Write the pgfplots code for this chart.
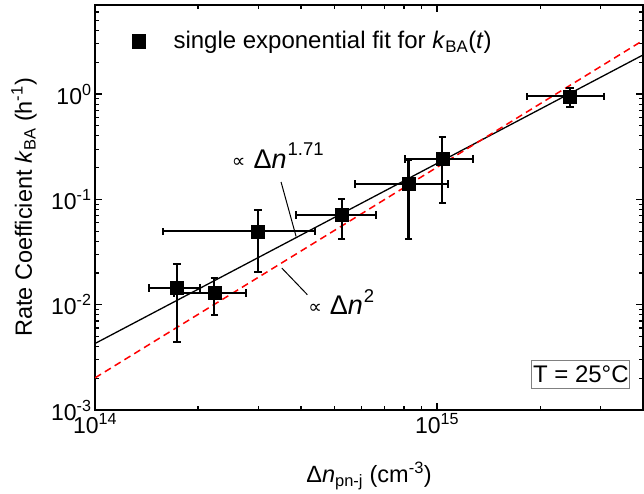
\documentclass[border=0pt]{standalone}
\usepackage{pgfplots}
\pgfplotsset{compat=1.18}
\usepackage{fontspec}
\setmainfont{Liberation Sans}
\newfontfamily\dejavu{DejaVu Sans}
\definecolor{boxgray}{RGB}{128,128,128}
\begin{document}
\begin{tikzpicture}
\begin{axis}[
  scale only axis,
  width=548pt, height=405pt,
  xmode=log, ymode=log,
  xmin=1e14, xmax=4e15,
  ymin=1e-3, ymax=7,
  axis line style={line width=2pt},
  xtick={1e14,1e15},
  xticklabels={10\textsuperscript{14},10\textsuperscript{15}},
  ytick={1e-3,1e-2,1e-1,1},
  yticklabels={10\textsuperscript{-3},10\textsuperscript{-2},10\textsuperscript{-1},10\textsuperscript{0}},
  minor xtick={2e14,3e14,4e14,5e14,6e14,7e14,8e14,9e14,2e15,3e15},
  minor ytick={2e-3,3e-3,4e-3,5e-3,6e-3,7e-3,8e-3,9e-3,2e-2,3e-2,4e-2,5e-2,6e-2,7e-2,8e-2,9e-2,2e-1,3e-1,4e-1,5e-1,6e-1,7e-1,8e-1,9e-1,2,3,4,5,6},
  major tick length=7pt, minor tick length=4pt,
  every major tick/.append style={line width=1.6pt, black},
  every minor tick/.append style={line width=1.1pt, black},
  tick label style={font=\fontsize{23}{27}\selectfont},
  xlabel={Δ\textit{n}\textsubscript{pn-j} (cm\textsuperscript{-3})},
  ylabel={Rate Coefficient \textit{k}\textsubscript{BA} (h\textsuperscript{-1})},
  label style={font=\fontsize{23.5}{28}\selectfont},
  xlabel style={at={(axis description cs:0.5,-0.180)}, anchor=base},
  ylabel style={at={(axis description cs:-0.1155,0.5)}, anchor=base},
  legend style={draw=none, fill=none, at={(axis description cs:0.0667,0.912)}, anchor=west,
    font=\fontsize{24}{28}\selectfont, column sep=26pt, inner sep=0pt},
  legend image code/.code={\fill[black] (-6.65pt,-7.3pt) rectangle (6.65pt,6pt);},
]
\addplot[black, line width=1.3pt, forget plot] coordinates {(1e14,0.00428) (4e15,2.35)};
\addplot[red, line width=1.5pt, dash pattern=on 7pt off 4.5pt, forget plot] coordinates {(1e14,0.00202) (4e15,3.23)};
\addplot[black, only marks, mark=square*, mark size=6.5pt, mark options={line width=0.5pt, fill=black},
  error bars/.cd, x dir=both, y dir=both, x explicit, y explicit,
  error bar style={line width=2.1pt, black},
  error mark options={rotate=90, mark size=3.8pt, line width=2pt, black}]
  table[x=x, y=y, x error=ex, y error=ey] {
x y ex ey
1.733e14 0.01447 0.295e14 0.0100
2.233e14 0.01297 0.53e14 0.0050
2.99e14 0.0496 1.41e14 0.0293
5.26e14 0.0714 1.385e14 0.0290
8.25e14 0.1397 2.49e14 0.098
1.036e15 0.243 2.33e14 0.150
2.448e15 0.949 6.18e14 0.202
};
\addlegendentry{single exponential fit for \textit{k}\textsubscript{BA}(\textit{t})}
% annotations
\draw[black, line width=1pt] (rel axis cs:0.3394,0.563) -- (rel axis cs:0.3668,0.4286);
\draw[black, line width=1pt] (rel axis cs:0.3407,0.3506) -- (rel axis cs:0.3874,0.2847);
\node[anchor=base west, inner sep=0pt] at (rel axis cs:0.2495,0.5975)
  {\raisebox{1pt}{\dejavu\fontsize{19}{19}\selectfont ∝}\hspace{8pt}{\fontsize{27}{27}\selectfont Δ\textit{n}}\hspace{1pt}\raisebox{12.3pt}{\fontsize{18.5}{18}\selectfont 1.71}};
\node[anchor=base west, inner sep=0pt] at (rel axis cs:0.3887,0.2353)
  {\raisebox{1pt}{\dejavu\fontsize{19}{19}\selectfont ∝}\hspace{8pt}{\fontsize{27}{27}\selectfont Δ\textit{n}}\hspace{1pt}\raisebox{12pt}{\fontsize{18.5}{18}\selectfont 2}};
\node[draw=boxgray, line width=0.8pt, inner sep=0pt, minimum width=98pt, minimum height=28pt,
  font=\fontsize{24}{28}\selectfont, anchor=center] at (rel axis cs:0.8865,0.0884) {T = 25°C};
\end{axis}
\path (-95pt,-83pt) rectangle (549pt,410pt);
\end{tikzpicture}
\end{document}
